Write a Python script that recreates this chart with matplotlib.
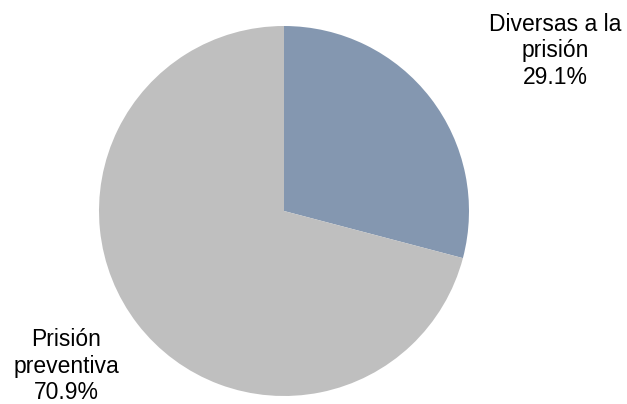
import matplotlib.pyplot as plt

labels = ["Diversas a la\nprisión", "Prisión\npreventiva"]
values = [29.1, 70.9]
colors = ["#8497B0", "#BFBFBF"]

W, H = 627, 404
fig = plt.figure(figsize=(W / 100, H / 100), dpi=100)
plt.rcParams["font.family"] = ["Liberation Sans", "DejaVu Sans"]

# pie centre (284, 211) px, radius 185 px
cx, cy, r = 284, H - 211, 185
ax = fig.add_axes([(cx - r) / W, (cy - r) / H, 2 * r / W, 2 * r / H])
ax.pie(values, colors=colors, startangle=90, counterclock=False,
       radius=1, wedgeprops={"linewidth": 0})
ax.set_xlim(-1, 1)
ax.set_ylim(-1, 1)
ax.set_aspect("equal")
ax.axis("off")

label_pos = [(555, 51), (66, 366)]
for lab, v, (x, y) in zip(labels, values, label_pos):
    fig.text(x / W, 1 - y / H, f"{lab}\n{v:.1f}%", ha="center", va="center",
             fontsize=16.5, linespacing=1.22, color="#000000")

fig.savefig("out.png", dpi=100)
